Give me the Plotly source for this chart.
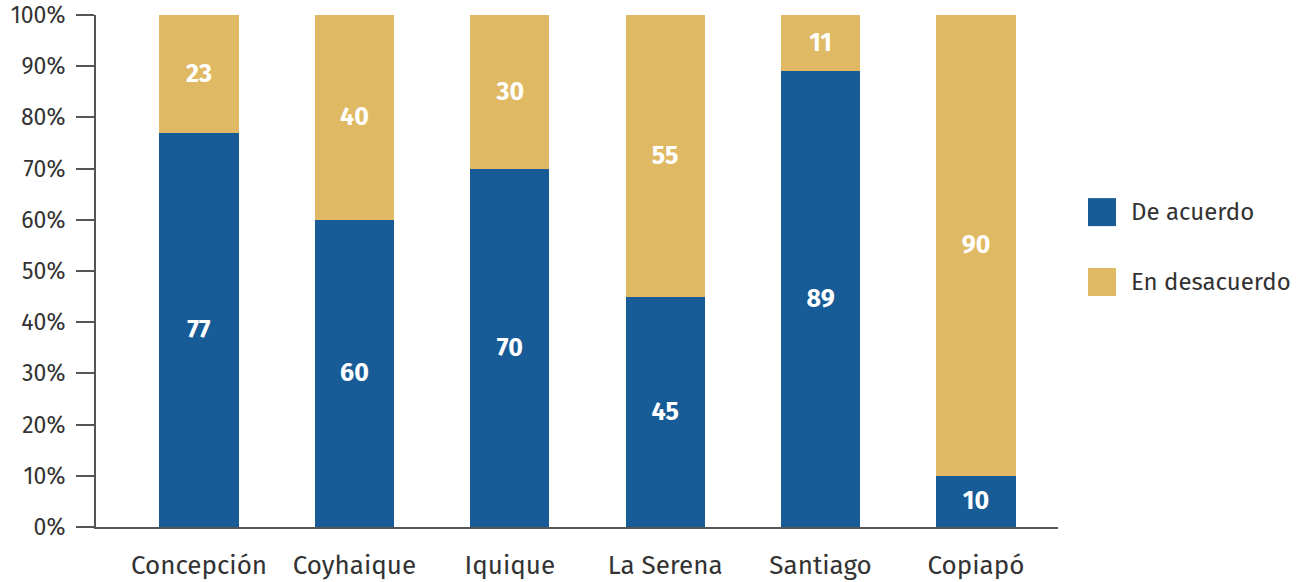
import plotly.graph_objects as go

ciudades = ["Concepción", "Coyhaique", "Iquique", "La Serena", "Santiago", "Copiapó"]
de_acuerdo = [77, 60, 70, 45, 89, 10]
en_desacuerdo = [23, 40, 30, 55, 11, 90]
series_names = ["De acuerdo", "En desacuerdo"]
y_ticks = [0, 10, 20, 30, 40, 50, 60, 70, 80, 90, 100]
y_tick_labels = [f"{v}%" for v in y_ticks]

BLUE = "#185C97"
GOLD = "#DFB963"
COLORS = [BLUE, GOLD]
FONT = "Fira Sans, Noto Sans, sans-serif"

fig = go.Figure()
for name, vals, col in zip(series_names, [de_acuerdo, en_desacuerdo], COLORS):
    fig.add_trace(go.Bar(
        x=ciudades, y=vals, name=name,
        marker=dict(color=col, line=dict(width=0)),
        text=vals, textposition="inside", insidetextanchor="middle",
        textfont=dict(color="white", size=25, family=FONT, weight="bold"),
        width=0.51, showlegend=False,
    ))

# custom legend (large square swatches)
legend_y = [0.615, 0.4785]
sw_h = 28 / 512
for name, col, yc in zip(series_names, COLORS, legend_y):
    fig.add_shape(type="rect", xref="paper", yref="paper",
                  x0=1.0312, x1=1.0603, y0=yc - sw_h / 2, y1=yc + sw_h / 2,
                  fillcolor=col, line=dict(width=0))
    fig.add_annotation(xref="paper", yref="paper", x=1.0735, y=yc,
                       xanchor="left", yanchor="middle", showarrow=False,
                       text=name, font=dict(size=24, color="#333333", family=FONT))

fig.update_layout(
    barmode="stack",
    width=1298, height=582,
    margin=dict(l=96, r=240, t=15, b=55, autoexpand=False),
    plot_bgcolor="white", paper_bgcolor="white",
    font=dict(family=FONT, color="#333333"),
    showlegend=False,
    uniformtext=dict(minsize=10, mode="show"),
)
fig.update_xaxes(
    range=[-0.663, 5.528],
    showline=True, linecolor="#555555", linewidth=2,
    ticks="", tickfont=dict(size=26, color="#333333"),
    ticklabelstandoff=14, automargin=False,
    showgrid=False, zeroline=False,
)
fig.update_yaxes(
    range=[0, 100],
    tickvals=y_ticks, ticktext=y_tick_labels,
    showline=True, linecolor="#555555", linewidth=2,
    ticks="outside", ticklen=18, tickwidth=2, tickcolor="#555555",
    tickfont=dict(size=23, color="#333333"),
    ticklabelstandoff=6, automargin=False,
    showgrid=False, zeroline=False,
)

fig.write_html("out.html", config={"displayModeBar": False},
               post_script="document.body.style.margin='0px';")
